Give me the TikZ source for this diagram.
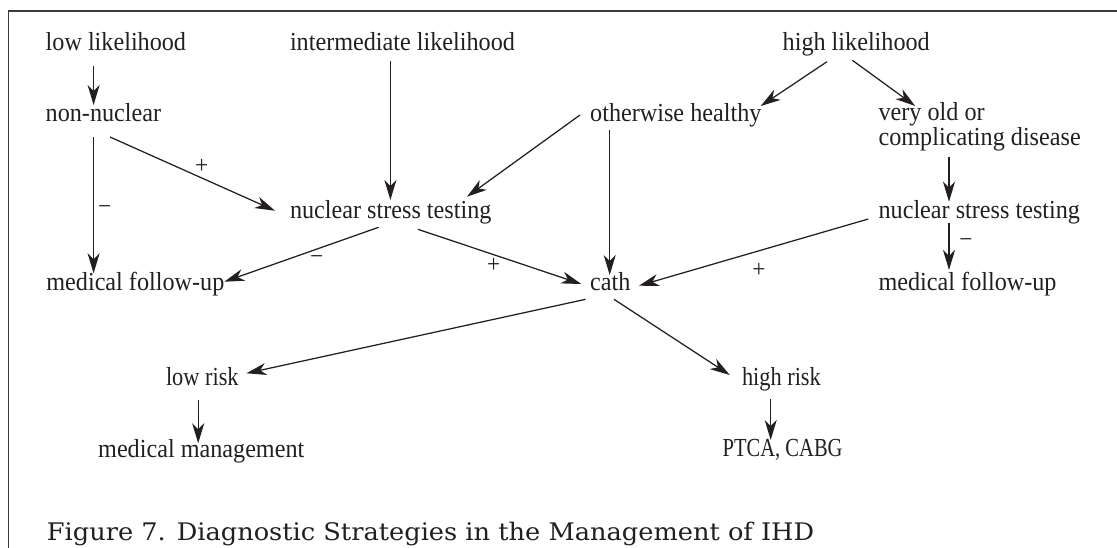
\documentclass[tikz,border=0pt]{standalone}
\usepackage{fontspec}
\usetikzlibrary{arrows.meta,calc}
\newfontfamily\diagfont[FakeStretch=0.93]{Liberation Serif}
\newfontfamily\diagnarrow[FakeStretch=0.86]{Liberation Serif}
\newfontfamily\diagnarrower[FakeStretch=0.79]{Liberation Serif}
\newfontfamily\capfont[FakeStretch=1.06]{DejaVu Serif}
\newcommand\dfont{\diagfont\fontsize{26}{22.5}\selectfont}
\newcommand\nfont{\diagnarrow\fontsize{26}{22.5}\selectfont}
\newcommand\nnfont{\diagnarrower\fontsize{26}{22.5}\selectfont}
\newcommand\lfont{\diagfont\fontsize{25}{26}\selectfont}
\newcommand\cfont{\capfont\fontsize{24.2}{28}\selectfont}
\definecolor{ink}{HTML}{231F20}
\definecolor{framec}{HTML}{3A3A3A}
\tikzset{
  txt/.style={font=\dfont, inner sep=0pt, outer sep=0pt, anchor=base west, text=ink},
  ntxt/.style={txt, font=\nfont},
  nntxt/.style={txt, font=\nnfont},
  lbl/.style={font=\lfont, inner sep=0pt, outer sep=0pt, text=ink},
  arr/.style={draw=ink, line width=1.25pt, -{Stealth[length=20pt,width=12pt,inset=6pt]}},
  frame/.style={draw=framec, line width=1.6pt},
  captxt/.style={font=\cfont, inner sep=0pt, anchor=base west, text=ink},
}
\begin{document}
\begin{tikzpicture}[x=1pt,y=-1pt]
\useasboundingbox (0,0) rectangle (1117,547);
\draw[frame] (1120,11) -- (8.5,11) -- (8.5,550);

% nodes
\node[txt] (lowlik)   at (45.7,50.7)  {low likelihood};
\node[txt] (intlik)   at (290,50.7)   {intermediate likelihood};
\node[txt] (highlik)  at (782.7,50)   {high likelihood};
\node[txt] (nonnuc)   at (45.7,121.7) {non-nuclear};
\node[txt] (otherw)   at (590.2,121.7){otherwise healthy};
\node[txt,align=left] (veryold) at (878.6,145) {very old or\\complicating disease};
\node[txt] (nuc1)     at (290,218.3)  {nuclear stress testing};
\node[txt] (nuc2)     at (878.6,218.3){nuclear stress testing};
\node[txt] (medfu1)   at (46.4,290)   {medical follow-up};
\node[txt] (cath)     at (590.2,290)  {cath};
\node[txt] (medfu2)   at (878.6,290)  {medical follow-up};
\node[ntxt] (lowrisk)  at (166,385)    {low risk};
\node[ntxt] (highrisk) at (742,385.7)  {high risk};
\node[txt] (medmgmt)  at (98.2,457)   {medical management};
\node[nntxt] (ptca)     at (722.7,456.7){PTCA, CABG};

% connectors
\draw[arr] ($(lowlik.base west)+(47.9,15.3)$) -- ($(nonnuc.base west)+(47.9,-16.7)$);
\draw[arr] ($(intlik.base west)+(100.4,10.3)$) -- ($(nuc1.base west)+(100.4,-18.3)$);
\draw[arr] ($(highlik.base west)+(44.3,11.7)$) -- ($(otherw.base west)+(170.5,-15.7)$);
\draw[arr] ($(highlik.base west)+(69.7,10.3)$) -- ($(veryold.base west)+(36.6,-39)$);
\draw[arr] ($(nonnuc.base west)+(64.3,15.3)$) -- ($(nuc1.base west)+(-15,-7.6)$);
\draw[arr] ($(nonnuc.base west)+(47.9,15.3)$) -- ($(medfu1.base west)+(47.2,-16.7)$);
\draw[arr] ($(otherw.base west)+(-10.2,-6.7)$) -- ($(nuc1.base west)+(177,-21.6)$);
\draw[arr] ($(otherw.base west)+(19.5,8.3)$) -- ($(cath.base west)+(19.5,-15)$);
\draw[arr] ($(veryold.base west)+(70.4,12)$) -- ($(nuc2.base west)+(70.4,-16.6)$);
\draw[arr] ($(nuc1.base west)+(88.6,9)$) -- ($(medfu1.base west)+(177.9,-8.3)$);
\draw[arr] ($(nuc1.base west)+(127.9,11)$) -- ($(cath.base west)+(-8.9,-6)$);
\draw[arr] ($(nuc2.base west)+(-10.3,0.7)$) -- ($(cath.base west)+(48.7,-4.3)$);
\draw[arr] ($(nuc2.base west)+(70.4,5)$) -- ($(medfu2.base west)+(70.4,-20)$);
\draw[arr] ($(cath.base west)+(-4.6,9.3)$) -- ($(lowrisk.base west)+(80.4,-11.7)$);
\draw[arr] ($(cath.base west)+(23.8,9.3)$) -- ($(highrisk.base west)+(-12.2,-10.7)$);
\draw[arr] ($(lowrisk.base west)+(32.2,15)$) -- ($(medmgmt.base west)+(100,-13.7)$);
\draw[arr] ($(highrisk.base west)+(28.7,13.6)$) -- ($(ptca.base west)+(48,-16.7)$);

% edge labels
\node[lbl] (pa) at (201.8,166.7) {+};
\node[lbl] (ma) at (104.6,210) {−};
\node[lbl] (mb) at (316.8,260) {−};
\node[lbl] (pb) at (493.6,265) {+};
\node[lbl] (pc) at (758.9,270) {+};
\node[lbl] (mc) at (966,243.3) {−};

% caption
\node[captxt] (caption) at (46.7,540) {Figure 7. Diagnostic Strategies in the Management of IHD};
\end{tikzpicture}
\end{document}
